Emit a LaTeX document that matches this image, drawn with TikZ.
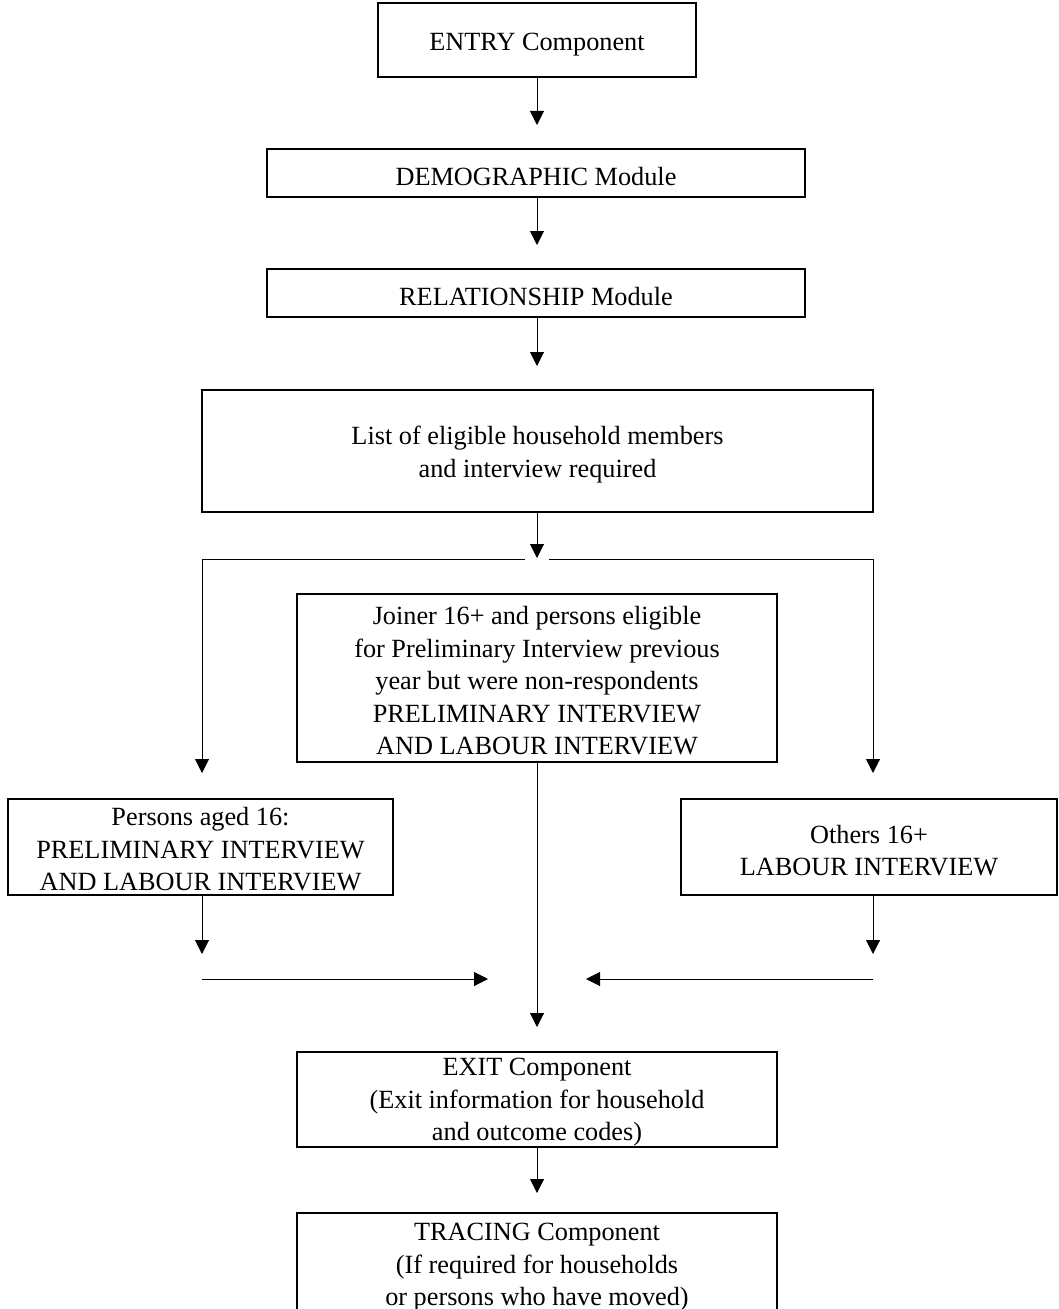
\documentclass[tikz,border=0pt]{standalone}
\usepackage{fontspec}
\setmainfont{Liberation Serif}
\usetikzlibrary{arrows.meta}
\begin{document}
\begin{tikzpicture}[x=0.75pt,y=-0.75pt,
  box/.style={draw=black, line width=0.8pt, inner sep=0pt},
  txt/.style={align=center, inner sep=0pt, font=\fontsize{19.7}{24.4}\selectfont},
  arr/.style={draw=black, line width=0.75pt, -{Triangle[width=10.5pt,length=10.5pt]}}]
\useasboundingbox (0,0) rectangle (1058,1309);
\clip (0,0) rectangle (1058,1309);
\fill[white] (0,0) rectangle (1058,1309);

\node[box, minimum width=238.5pt, minimum height=55.5pt] (entry) at (537,40) {};
\node[box, minimum width=403.5pt, minimum height=36pt] (demo) at (536,173) {};
\node[box, minimum width=403.5pt, minimum height=36pt] (rel) at (536,293) {};
\node[box, minimum width=503.25pt, minimum height=91.5pt] (list) at (537.5,451) {};
\node[box, minimum width=360pt, minimum height=126pt] (joiner) at (537,678) {};
\node[box, minimum width=288.75pt, minimum height=72pt] (left) at (200.5,847) {};
\node[box, minimum width=282pt, minimum height=72pt] (right) at (869,847) {};
\node[box, minimum width=360pt, minimum height=71.25pt] (exit) at (537,1099.5) {};
\node[box, minimum width=360pt, minimum height=78pt] (tracing) at (537,1265) {};

\node[txt] (entry-t) at ([yshift=-3.4pt]entry.center) {ENTRY Component};
\node[txt] (demo-t) at ([yshift=-2.8pt]demo.center) {DEMOGRAPHIC Module};
\node[txt] (rel-t) at ([yshift=-2.8pt]rel.center) {RELATIONSHIP Module};
\node[txt] (list-t) at ([yshift=-2.6pt]list.center) {List of eligible household members\\and interview required};
\node[txt] (joiner-t) at ([yshift=-2.2pt]joiner.center) {Joiner 16+ and persons eligible\\for Preliminary Interview previous\\year but were non-respondents\\PRELIMINARY INTERVIEW\\AND LABOUR INTERVIEW};
\node[txt] (left-t) at ([yshift=-1.6pt]left.center) {Persons aged 16:\\PRELIMINARY INTERVIEW\\AND LABOUR INTERVIEW};
\node[txt] (right-t) at ([yshift=-2.8pt]right.center) {Others 16+\\LABOUR INTERVIEW};
\node[txt] (exit-t) at ([yshift=-2.2pt]exit.center) {EXIT Component\\(Exit information for household\\and outcome codes)};
\node[txt] (tracing-t) at ([yshift=-1.6pt]tracing.center) {TRACING Component\\(If required for households\\or persons who have moved)};

% free ends
\coordinate (t1) at (537,125);
\coordinate (t2) at (537,245);
\coordinate (t3) at (537,366);
\coordinate (t4) at (537,558);
\coordinate (jL1) at (525,559);
\coordinate (jL) at (202,559);
\coordinate (tL) at (202,773);
\coordinate (jR1) at (549,559);
\coordinate (jR) at (873,559);
\coordinate (tR) at (873,773);
\coordinate (bL) at (202,954);
\coordinate (bR) at (873,954);
\coordinate (hL) at (202,979);
\coordinate (hLt) at (488,979);
\coordinate (hR) at (873,979);
\coordinate (hRt) at (586,979);
\coordinate (mT) at (537,1027);
\coordinate (eT) at (537,1193);

\draw[arr] (entry.south) -- (t1);
\draw[arr] (demo.south -| t2) -- (t2);
\draw[arr] (rel.south -| t3) -- (t3);
\draw[arr] (list.south -| t4) -- (t4);
\draw[arr] (jL1) -- (jL) -- (tL);
\draw[arr] (jR1) -- (jR) -- (tR);
\draw[arr] (left.south -| bL) -- (bL);
\draw[arr] (right.south -| bR) -- (bR);
\draw[arr] (hL) -- (hLt);
\draw[arr] (hR) -- (hRt);
\draw[arr] (joiner.south) -- (mT);
\draw[arr] (exit.south) -- (eT);
\end{tikzpicture}
\end{document}
